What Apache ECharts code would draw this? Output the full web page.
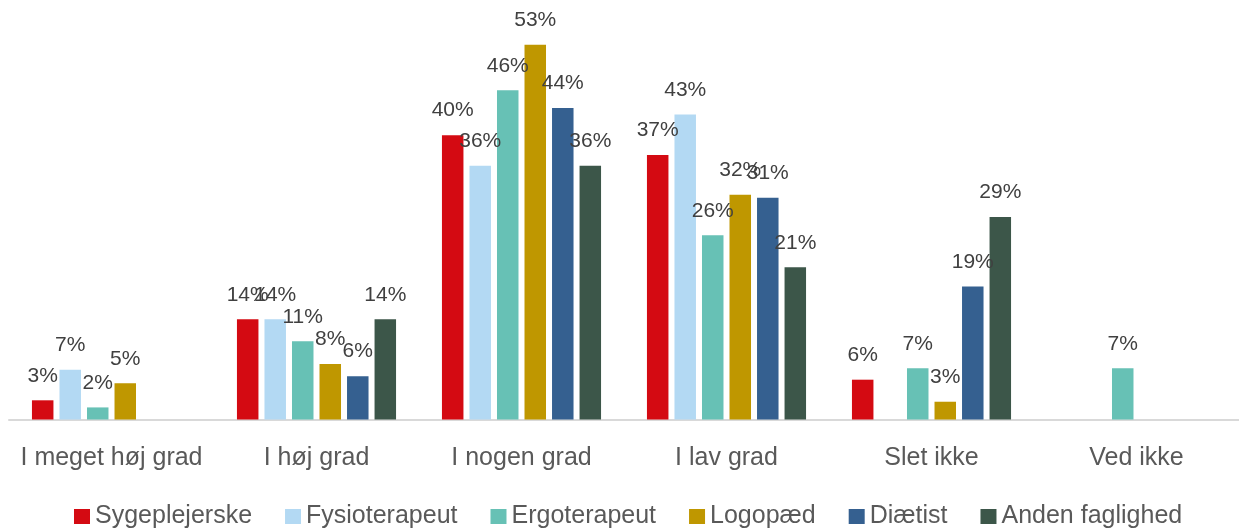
<!DOCTYPE html>
<html>
<head>
<meta charset="utf-8">
<script src="https://cdn.jsdelivr.net/npm/echarts@6/dist/echarts.min.js"></script>
<style>
html,body{margin:0;padding:0;background:#fff;}
#chart{width:1239px;height:528px;}
</style>
</head>
<body>
<div id="chart"></div>
<script>
const categories = ['I meget høj grad', 'I høj grad', 'I nogen grad', 'I lav grad', 'Slet ikke', 'Ved ikke'];
const seriesNames = ['Sygeplejerske', 'Fysioterapeut', 'Ergoterapeut', 'Logopæd', 'Diætist', 'Anden faglighed'];
const colors = ['#d40a12', '#b3d9f3', '#67c1b5', '#bf9700', '#356090', '#3c5649'];
const sygeplejerske = [2.7, 14.1, 40.0, 37.2, 5.6, null];
const fysioterapeut = [7.0, 14.1, 35.7, 42.9, null, null];
const ergoterapeut = [1.7, 11.0, 46.3, 25.9, 7.2, 7.2];
const logopaed = [5.1, 7.8, 52.7, 31.6, 2.5, null];
const diaetist = [null, 6.1, 43.8, 31.2, 18.7, null];
const andenFaglighed = [null, 14.1, 35.7, 21.4, 28.5, null];
const seriesData = [sygeplejerske, fysioterapeut, ergoterapeut, logopaed, diaetist, andenFaglighed];

const FONT = 'Liberation Sans';
const chart = echarts.init(document.getElementById('chart'), null, {renderer: 'canvas'});
chart.setOption({
  backgroundColor: '#ffffff',
  animation: false,
  textStyle: {fontFamily: FONT},
  grid: {left: 9, width: 1233, top: 28.5, bottom: 108.5, containLabel: false},
  legend: {
    top: 504,
    left: 74,
    padding: 0,
    icon: 'rect',
    itemWidth: 16,
    itemHeight: 15,
    itemGap: 33,
    textStyle: {fontSize: 25, color: '#595959', fontFamily: FONT},
    data: seriesNames
  },
  xAxis: {
    type: 'category',
    data: categories,
    axisLine: {lineStyle: {color: '#d9d9d9', width: 2}},
    axisTick: {show: false},
    axisLabel: {fontSize: 25, color: '#595959', margin: 26, fontFamily: FONT, interval: 0}
  },
  yAxis: {
    type: 'value',
    min: 0,
    max: 55,
    show: false,
    splitLine: {show: false}
  },
  series: seriesNames.map((name, i) => ({
    name: name,
    type: 'bar',
    data: seriesData[i],
    barWidth: 21.5,
    barGap: '28%',
    itemStyle: {color: colors[i]},
    label: {
      show: true,
      position: 'top',
      distance: 14,
      fontSize: 21,
      color: '#404040',
      fontFamily: FONT,
      formatter: p => Math.round(p.value) + '%'
    }
  }))
});
</script>
</body>
</html>
